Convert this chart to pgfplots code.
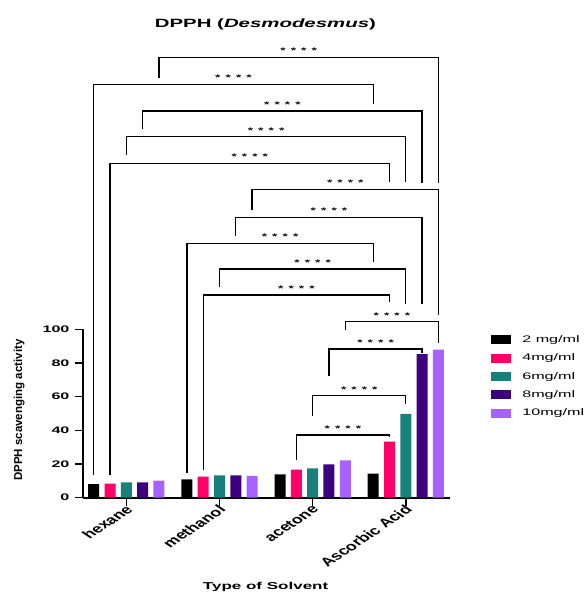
\documentclass[border=0pt]{standalone}
\usepackage{fontspec}
\setmainfont{Liberation Sans}[FakeStretch=1.7]
\newfontfamily\plainfont{Liberation Sans}
\usepackage{pgfplots}
\pgfplotsset{compat=1.18}
\definecolor{cBlack}{RGB}{0,0,0}
\definecolor{cPink}{RGB}{255,0,102}
\definecolor{cTeal}{RGB}{23,128,122}
\definecolor{cDark}{RGB}{61,0,128}
\definecolor{cLight}{RGB}{168,98,255}
\begin{document}
\begin{tikzpicture}
\begin{axis}[
  scale only axis, width=367pt, height=168.4pt,
  xmin=-0.465, xmax=3.474, ymin=0, ymax=100,
  axis x line*=bottom, axis y line*=left,
  axis line style={line width=1.8pt, black},
  xtick={0,1,2,3}, xticklabels={hexane,methanol,acetone,Ascorbic Acid},
  ytick={0,20,40,60,80,100},
  tick align=outside, major tick length=8pt,
  every tick/.style={black, line width=1.5pt},
  /pgf/number format/assume math mode=true,
  yticklabel style={font=\fontsize{9.5}{10}\selectfont\bfseries, xshift=-2pt},
  xticklabel style={font=\plainfont\fontsize{12}{14}\selectfont\bfseries, xshift=4pt, yshift=-1pt, xscale=1.5, rotate=45, anchor=east, inner sep=1pt},
  xlabel={Type of Solvent},
  xlabel style={at={(0.4976,-0.528)}, anchor=center, inner sep=0pt, font=\fontsize{10}{12}\selectfont\bfseries},
  ylabel={DPPH scavenging activity},
  ylabel style={at={(-0.174,0.52)}, anchor=center, inner sep=0pt, font=\plainfont\fontsize{11.5}{13}\selectfont\bfseries},
  clip=false,
  legend style={at={(1.112,0.97)}, anchor=north west, draw=none, fill=none, inner sep=0pt,
    font=\fontsize{9.5}{11}\selectfont, row sep=8pt,
    nodes={inner sep=1pt},
    /tikz/every odd column/.append style={column sep=10pt}},
  legend cell align=left,
  legend image code/.code={\fill[#1] (0pt,-4.5pt) rectangle (20pt,4.5pt);},
]
\addplot[ybar, bar width=0.118, bar shift=-0.35, fill=cBlack, draw=none] coordinates {(0,8.0) (1,10.9) (2,13.9) (3,14.3)};
\addlegendentry{2 mg/ml}
\addplot[ybar, bar width=0.118, bar shift=-0.175, fill=cPink, draw=none] coordinates {(0,8.3) (1,12.5) (2,16.6) (3,33.3)};
\addlegendentry{4mg/ml}
\addplot[ybar, bar width=0.118, bar shift=0, fill=cTeal, draw=none] coordinates {(0,9.1) (1,13.2) (2,17.4) (3,49.7)};
\addlegendentry{6mg/ml}
\addplot[ybar, bar width=0.118, bar shift=0.175, fill=cDark, draw=none] coordinates {(0,9.1) (1,13.2) (2,19.8) (3,85.2)};
\addlegendentry{8mg/ml}
\addplot[ybar, bar width=0.118, bar shift=0.35, fill=cLight, draw=none] coordinates {(0,10.1) (1,12.9) (2,22.2) (3,87.9)};
\addlegendentry{10mg/ml}

\path (rel axis cs:-0.2262,-0.566) rectangle (rel axis cs:1.376,2.9555);
\node[font=\fontsize{12}{14}\selectfont\bfseries, anchor=center, inner sep=0pt] at (rel axis cs:0.497,2.81) {DPPH (\textit{Desmodesmus})};

\tikzset{brk/.style={black, line width=1.3pt}, stars/.style={anchor=base, yshift=3.5pt, font=\fontsize{8}{9}\selectfont\bfseries, inner sep=0pt}}
\draw[brk] (axis cs:0.35,249.5) |- (axis cs:3.35,261.5) -- (axis cs:3.35,186.9);
\node[stars] at (axis cs:1.85,261.5) {*\, *\, *\, *};
\draw[brk] (axis cs:-0.35,13.3) |- (axis cs:2.65,245.5) -- (axis cs:2.65,233.6);
\node[stars] at (axis cs:1.15,245.5) {*\, *\, *\, *};
\draw[brk] (axis cs:0.175,218.9) |- (axis cs:3.175,229.6) -- (axis cs:3.175,186.9);
\node[stars] at (axis cs:1.675,229.6) {*\, *\, *\, *};
\draw[brk] (axis cs:0,203.5) |- (axis cs:3,214.4) -- (axis cs:3,187.6);
\node[stars] at (axis cs:1.5,214.4) {*\, *\, *\, *};
\draw[brk] (axis cs:-0.175,13.3) |- (axis cs:2.825,198.6) -- (axis cs:2.825,187.6);
\node[stars] at (axis cs:1.325,198.6) {*\, *\, *\, *};
\draw[brk] (axis cs:1.35,170.8) |- (axis cs:3.35,183.1) -- (axis cs:3.35,108.5);
\node[stars] at (axis cs:2.35,183.1) {*\, *\, *\, *};
\draw[brk] (axis cs:1.175,155.4) |- (axis cs:3.175,166.5) -- (axis cs:3.175,115.0);
\node[stars] at (axis cs:2.175,166.5) {*\, *\, *\, *};
\draw[brk] (axis cs:0.65,14.8) |- (axis cs:2.65,151.1) -- (axis cs:2.65,140.1);
\node[stars] at (axis cs:1.65,151.1) {*\, *\, *\, *};
\draw[brk] (axis cs:1,124.9) |- (axis cs:3,135.8) -- (axis cs:3,115.0);
\node[stars] at (axis cs:2,135.8) {*\, *\, *\, *};
\draw[brk] (axis cs:0.825,16.4) |- (axis cs:2.825,120.4) -- (axis cs:2.825,116.4);
\node[stars] at (axis cs:1.825,120.4) {*\, *\, *\, *};
\draw[brk] (axis cs:2.35,99.6) |- (axis cs:3.35,104.5) -- (axis cs:3.35,92.0);
\node[stars] at (axis cs:2.85,104.5) {*\, *\, *\, *};
\draw[brk] (axis cs:2.175,72.3) |- (axis cs:3.175,88.3) -- (axis cs:3.175,86);
\node[stars] at (axis cs:2.675,88.3) {*\, *\, *\, *};
\draw[brk] (axis cs:2,48.5) |- (axis cs:3,60.6) -- (axis cs:3,55.6);
\node[stars] at (axis cs:2.5,60.6) {*\, *\, *\, *};
\draw[brk] (axis cs:1.825,22.4) |- (axis cs:2.825,37.2) -- (axis cs:2.825,36.0);
\node[stars] at (axis cs:2.325,37.2) {*\, *\, *\, *};
\end{axis}
\end{tikzpicture}
\end{document}
